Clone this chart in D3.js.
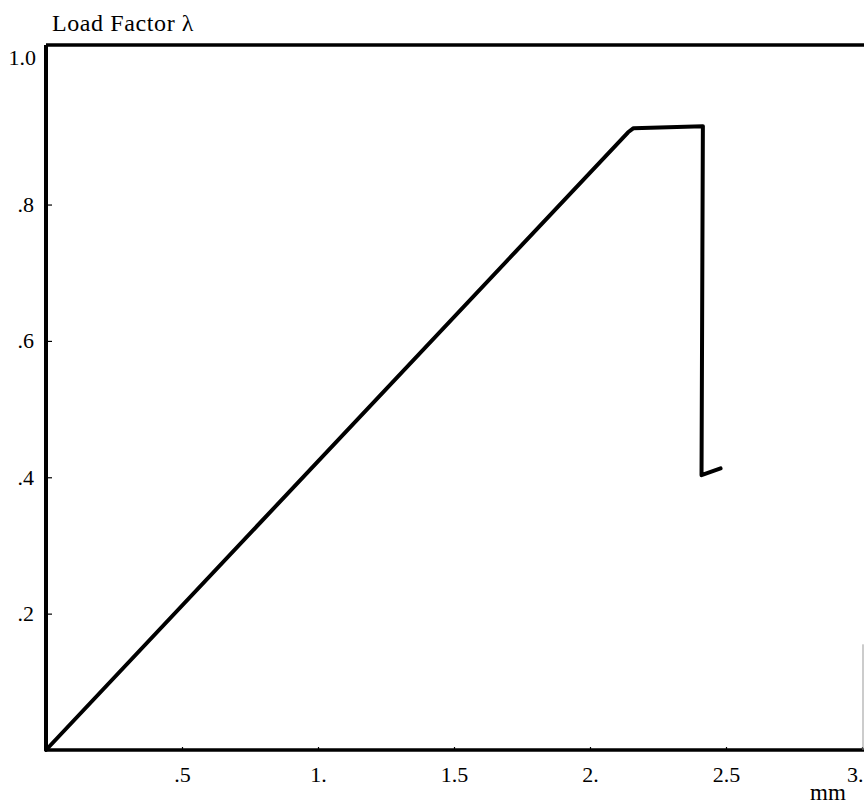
<!DOCTYPE html>
<html>
<head>
<meta charset="utf-8">
<script src="https://cdn.jsdelivr.net/npm/d3@7"></script>
<style>
  body { margin: 0; background: #fff; }
  svg { display: block; }
  text { font-family: "Liberation Serif", "DejaVu Serif", serif; fill: #000; }
  .tick text { font-size: 22px; }
</style>
</head>
<body>
<div id="chart"></div>
<script>
// displacement (mm) vs load factor
var dispMm = [0, 2.14, 2.16, 2.415, 2.41, 2.48];
var loadFactor = [0, 0.906, 0.912, 0.915, 0.403, 0.413];

var xTicks = [0.5, 1, 1.5, 2, 2.5, 3];
var xTickLabels = [".5", "1.", "1.5", "2.", "2.5", "3."];
var yTicks = [0.2, 0.4, 0.6, 0.8];
var yTickLabels = [".2", ".4", ".6", ".8"];
var yTopLabel = "1.0";
var yTitle = "Load Factor \u03bb";
var xTitle = "mm";

var width = 864, height = 812;
var xMax = 3, yMax = 1.034;

var x = d3.scaleLinear().domain([0, xMax]).range([46, 862]);
var y = d3.scaleLinear().domain([0, yMax]).range([750, 45]);

var svg = d3.select("#chart").append("svg")
  .attr("width", width)
  .attr("height", height);

// x axis ticks (inward) and labels
var xAxis = d3.axisBottom(x)
  .tickValues(xTicks)
  .tickFormat((d, i) => xTickLabels[i])
  .tickSizeInner(-3)
  .tickSizeOuter(0)
  .tickPadding(16);

svg.append("g")
  .attr("transform", `translate(0,${y(0)})`)
  .call(xAxis)
  .call(g => g.select(".domain").remove())
  .call(g => g.selectAll(".tick line").attr("stroke", "#000").attr("stroke-width", 1.2))
  .call(g => g.selectAll(".tick text").attr("font-family", "Liberation Serif"))
  // last label sits at the right edge, keep it inside the page
  .call(g => g.selectAll(".tick text").filter(d => d === xMax)
    .attr("text-anchor", "end").attr("x", 1));

// y axis
var yAxis = d3.axisLeft(y)
  .tickValues(yTicks)
  .tickFormat((d, i) => yTickLabels[i])
  .tickSizeInner(-6)
  .tickSizeOuter(0)
  .tickPadding(12);

svg.append("g")
  .attr("transform", `translate(${x(0)},0)`)
  .call(yAxis)
  .call(g => g.select(".domain").remove())
  .call(g => g.selectAll(".tick line").attr("stroke", "#000").attr("stroke-width", 1.2))
  .call(g => g.selectAll(".tick text").attr("font-family", "Liberation Serif"));

// frame: left, bottom, top solid; right edge only faintly at the bottom
var frame = svg.append("g").attr("stroke", "#000").attr("fill", "none");
frame.append("line")
  .attr("x1", x(0)).attr("x2", x(0)).attr("y1", y(yMax)).attr("y2", y(0))
  .attr("stroke-width", 4);
frame.append("line")
  .attr("x1", x(0)).attr("x2", width).attr("y1", y(0)).attr("y2", y(0))
  .attr("stroke-width", 3.5);
frame.append("line")
  .attr("x1", x(0)).attr("x2", width).attr("y1", y(yMax)).attr("y2", y(yMax))
  .attr("stroke-width", 3.5);
frame.append("line")
  .attr("x1", x(xMax) + 1).attr("x2", x(xMax) + 1).attr("y1", y(0.155)).attr("y2", y(0))
  .attr("stroke", "#999").attr("stroke-width", 1);

// top label of y axis
svg.append("text")
  .attr("x", 36)
  .attr("y", y(yMax) + 20)
  .attr("text-anchor", "end")
  .attr("font-size", 22)
  .text(yTopLabel);

// axis titles
svg.append("text")
  .attr("x", 52)
  .attr("y", 31)
  .attr("font-size", 24)
  .attr("letter-spacing", 0.6)
  .text(yTitle);

svg.append("text")
  .attr("x", 828)
  .attr("y", 800)
  .attr("text-anchor", "middle")
  .attr("font-size", 23)
  .text(xTitle);

// curve
var pts = dispMm.map((d, i) => [d, loadFactor[i]]);
var line = d3.line().x(d => x(d[0])).y(d => y(d[1]));

svg.append("path")
  .attr("d", line(pts))
  .attr("fill", "none")
  .attr("stroke", "#000")
  .attr("stroke-width", 4)
  .attr("stroke-linejoin", "round")
  .attr("stroke-linecap", "round");
</script>
</body>
</html>
